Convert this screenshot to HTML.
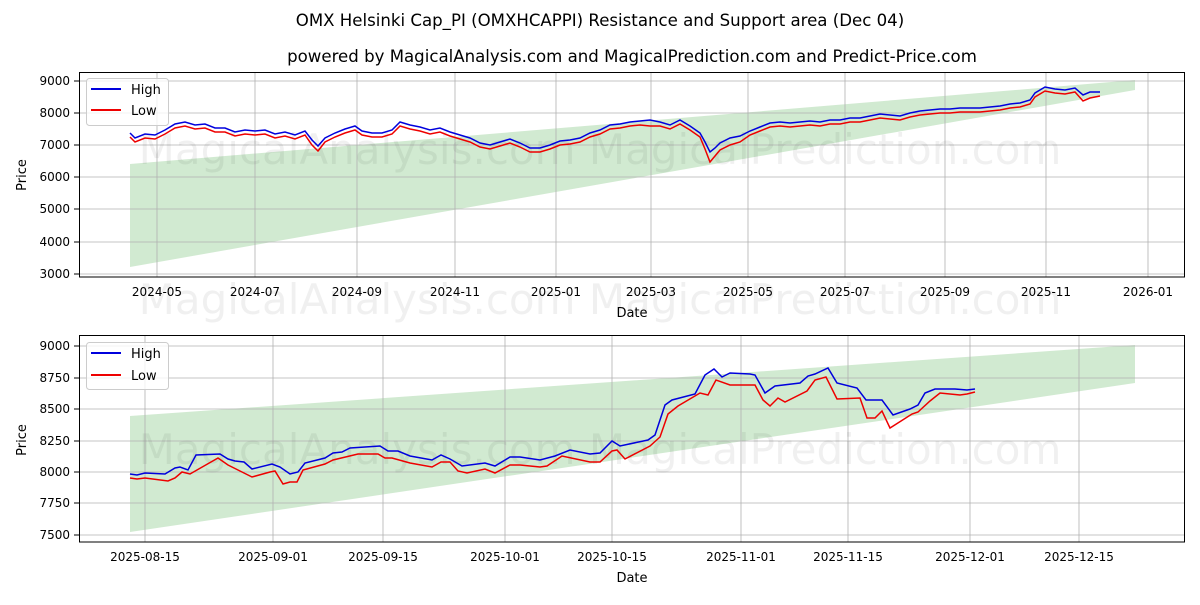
<!DOCTYPE html>
<html><head><meta charset="utf-8"><style>
body{margin:0;background:#fff;width:1200px;height:600px;overflow:hidden;font-family:"Liberation Sans","DejaVu Sans",sans-serif}
svg text{font-family:"DejaVu Sans","Liberation Sans",sans-serif;fill:#000}
</style></head><body>
<svg width="1200" height="600" xmlns="http://www.w3.org/2000/svg">
<text x="600" y="26" font-size="16.6" text-anchor="middle">OMX Helsinki Cap_PI (OMXHCAPPI) Resistance and Support area (Dec 04)</text>
<text x="632" y="62" font-size="16.6" text-anchor="middle">powered by MagicalAnalysis.com and MagicalPrediction.com and Predict-Price.com</text>

<!-- TOP CHART -->
<g>
<polygon points="130,164 1135,80 1135,90 130,267" fill="#2ca02c" fill-opacity="0.22"/>
<g stroke="#b0b0b0" stroke-width="0.8">
<line x1="157" y1="72" x2="157" y2="277"/><line x1="255" y1="72" x2="255" y2="277"/><line x1="357" y1="72" x2="357" y2="277"/><line x1="455" y1="72" x2="455" y2="277"/><line x1="556" y1="72" x2="556" y2="277"/><line x1="651" y1="72" x2="651" y2="277"/><line x1="748" y1="72" x2="748" y2="277"/><line x1="845" y1="72" x2="845" y2="277"/><line x1="945" y1="72" x2="945" y2="277"/><line x1="1046" y1="72" x2="1046" y2="277"/><line x1="1148" y1="72" x2="1148" y2="277"/>
<line x1="79" y1="81" x2="1185" y2="81"/><line x1="79" y1="113" x2="1185" y2="113"/><line x1="79" y1="145" x2="1185" y2="145"/><line x1="79" y1="177" x2="1185" y2="177"/><line x1="79" y1="209" x2="1185" y2="209"/><line x1="79" y1="242" x2="1185" y2="242"/><line x1="79" y1="274" x2="1185" y2="274"/>
</g>
<text x="600" y="164" font-size="42" text-anchor="middle" style="fill:rgba(0,0,0,0.06)">MagicalAnalysis.com    MagicalPrediction.com</text>
<text x="600" y="314" font-size="42" text-anchor="middle" style="fill:rgba(0,0,0,0.06)">MagicalAnalysis.com    MagicalPrediction.com</text>
<polyline fill="none" stroke="#ee0000" stroke-width="1.5" transform="translate(0,4)" points="130,133 135,138 145,134 155,135 165,130 175,124 185,122 195,125 205,124 215,128 225,128 235,132 245,130 255,131 265,130 275,134 285,132 295,135 305,131 312,141 318,147 325,138 335,133 345,129 355,126 362,131 372,133 382,133 392,130 400,122 410,125 420,127 430,130 440,128 450,132 460,135 470,138 480,143 490,145 500,142 510,139 520,143 530,148 540,148 550,145 560,141 570,140 580,138 590,133 600,130 610,125 620,124 630,122 640,121 650,122 660,122 670,125 680,120 690,126 700,133 705,145 710,158 715,152 720,146 730,141 740,138 750,131 760,127 770,123 780,122 790,123 800,122 810,121 820,122 830,120 840,120 850,118 860,118 870,116 880,114 890,115 900,116 910,113 920,111 930,110 940,109 950,109 960,108 970,108 980,108 990,107 1000,106 1010,104 1020,103 1030,100 1035,93 1045,87 1055,89 1065,90 1075,88 1083,97 1090,94 1100,92"/>
<polyline fill="none" stroke="#0000dd" stroke-width="1.5" points="130,133 135,138 145,134 155,135 165,130 175,124 185,122 195,125 205,124 215,128 225,128 235,132 245,130 255,131 265,130 275,134 285,132 295,135 305,131 312,140 318,146 325,138 335,133 345,129 355,126 362,131 372,133 382,133 392,130 400,122 410,125 420,127 430,130 440,128 450,132 460,135 470,138 480,143 490,145 500,142 510,139 520,143 530,148 540,148 550,145 560,141 570,140 580,138 590,133 600,130 610,125 620,124 630,122 640,121 650,120 660,122 670,125 680,120 690,126 700,133 705,142 710,152 715,148 720,143 730,138 740,136 750,131 760,127 770,123 780,122 790,123 800,122 810,121 820,122 830,120 840,120 850,118 860,118 870,116 880,114 890,115 900,116 910,113 920,111 930,110 940,109 950,109 960,108 970,108 980,108 990,107 1000,106 1010,104 1020,103 1030,100 1035,93 1045,87 1055,89 1065,90 1075,88 1083,95 1090,92 1100,92"/>
<rect x="79.5" y="72.5" width="1105" height="204.5" fill="none" stroke="#000" stroke-width="1"/>
<g font-size="12" text-anchor="end">
<text x="70" y="85">9000</text><text x="70" y="117">8000</text><text x="70" y="149">7000</text><text x="70" y="181">6000</text><text x="70" y="213">5000</text><text x="70" y="246">4000</text><text x="70" y="278">3000</text>
</g>
<g stroke="#000"><line x1="74" y1="81" x2="79" y2="81"/><line x1="74" y1="113" x2="79" y2="113"/><line x1="74" y1="145" x2="79" y2="145"/><line x1="74" y1="177" x2="79" y2="177"/><line x1="74" y1="209" x2="79" y2="209"/><line x1="74" y1="242" x2="79" y2="242"/><line x1="74" y1="274" x2="79" y2="274"/></g>
<g font-size="12" text-anchor="middle">
<text x="157" y="296">2024-05</text><text x="255" y="296">2024-07</text><text x="357" y="296">2024-09</text><text x="455" y="296">2024-11</text><text x="556" y="296">2025-01</text><text x="651" y="296">2025-03</text><text x="748" y="296">2025-05</text><text x="845" y="296">2025-07</text><text x="945" y="296">2025-09</text><text x="1046" y="296">2025-11</text><text x="1148" y="296">2026-01</text>
</g>
<text x="632" y="317" font-size="13" text-anchor="middle">Date</text>
<text x="26" y="175" font-size="13" text-anchor="middle" transform="rotate(-90 26 175)">Price</text>
<rect x="86.5" y="78.5" width="82" height="47" rx="3" fill="#fff" fill-opacity="0.8" stroke="#ccc"/>
<line x1="91" y1="89" x2="121" y2="89" stroke="#0000dd" stroke-width="2"/><text x="131" y="94" font-size="13">High</text>
<line x1="91" y1="110" x2="121" y2="110" stroke="#ee0000" stroke-width="2"/><text x="131" y="115" font-size="13">Low</text>
</g>

<!-- BOTTOM CHART -->
<g>
<polygon points="130,416 1135,345 1135,383 130,532" fill="#2ca02c" fill-opacity="0.22"/>
<g stroke="#b0b0b0" stroke-width="0.8">
<line x1="145" y1="335" x2="145" y2="542"/><line x1="273" y1="335" x2="273" y2="542"/><line x1="383" y1="335" x2="383" y2="542"/><line x1="505" y1="335" x2="505" y2="542"/><line x1="612" y1="335" x2="612" y2="542"/><line x1="741" y1="335" x2="741" y2="542"/><line x1="848" y1="335" x2="848" y2="542"/><line x1="970" y1="335" x2="970" y2="542"/><line x1="1079" y1="335" x2="1079" y2="542"/>
<line x1="79" y1="346" x2="1185" y2="346"/><line x1="79" y1="378" x2="1185" y2="378"/><line x1="79" y1="409" x2="1185" y2="409"/><line x1="79" y1="441" x2="1185" y2="441"/><line x1="79" y1="472" x2="1185" y2="472"/><line x1="79" y1="503" x2="1185" y2="503"/><line x1="79" y1="535" x2="1185" y2="535"/>
</g>
<text x="600" y="464" font-size="42" text-anchor="middle" style="fill:rgba(0,0,0,0.06)">MagicalAnalysis.com    MagicalPrediction.com</text>
<polyline fill="none" stroke="#ee0000" stroke-width="1.5" points="130,478 137,479 145,478 168,481 175,478 182,472 190,474 218,458 228,465 252,477 270,472 275,471 283,484 290,482 297,482 303,470 325,464 333,460 358,454 378,454 385,458 392,458 410,463 432,467 441,462 450,462 458,471 467,473 485,469 495,473 510,465 520,465 540,467 547,466 562,456 590,462 600,462 612,451 617,450 625,459 650,446 660,437 668,414 678,406 700,393 708,395 716,380 730,385 755,385 763,400 770,406 778,398 785,402 807,391 815,380 826,377 837,399 860,398 867,418 875,418 882,411 890,428 912,414 918,412 930,401 940,393 960,395 967,394 975,392"/>
<polyline fill="none" stroke="#0000dd" stroke-width="1.5" points="130,474 137,475 145,473 165,474 175,468 180,467 188,470 196,455 220,454 228,459 235,461 244,462 252,469 272,464 280,467 290,474 298,472 305,463 325,458 333,453 342,452 350,448 380,446 388,451 398,451 410,456 432,460 441,455 450,459 462,466 485,463 495,466 510,457 520,457 540,460 555,456 570,450 590,454 600,453 612,441 620,446 648,440 655,435 665,405 672,400 695,394 705,375 714,369 722,377 730,373 750,374 755,375 765,393 775,386 800,383 808,376 815,374 828,368 837,383 857,388 866,400 873,400 882,400 893,415 910,409 918,405 925,393 935,389 955,389 967,390 975,389"/>
<rect x="79.5" y="335.5" width="1105" height="206.5" fill="none" stroke="#000" stroke-width="1"/>
<g font-size="12" text-anchor="end">
<text x="70" y="350">9000</text><text x="70" y="382">8750</text><text x="70" y="413">8500</text><text x="70" y="445">8250</text><text x="70" y="476">8000</text><text x="70" y="507">7750</text><text x="70" y="539">7500</text>
</g>
<g stroke="#000"><line x1="74" y1="346" x2="79" y2="346"/><line x1="74" y1="378" x2="79" y2="378"/><line x1="74" y1="409" x2="79" y2="409"/><line x1="74" y1="441" x2="79" y2="441"/><line x1="74" y1="472" x2="79" y2="472"/><line x1="74" y1="503" x2="79" y2="503"/><line x1="74" y1="535" x2="79" y2="535"/></g>
<g font-size="12" text-anchor="middle">
<text x="145" y="561">2025-08-15</text><text x="273" y="561">2025-09-01</text><text x="383" y="561">2025-09-15</text><text x="505" y="561">2025-10-01</text><text x="612" y="561">2025-10-15</text><text x="741" y="561">2025-11-01</text><text x="848" y="561">2025-11-15</text><text x="970" y="561">2025-12-01</text><text x="1079" y="561">2025-12-15</text>
</g>
<text x="632" y="582" font-size="13" text-anchor="middle">Date</text>
<text x="26" y="440" font-size="13" text-anchor="middle" transform="rotate(-90 26 440)">Price</text>
<rect x="86.5" y="342.5" width="82" height="47" rx="3" fill="#fff" fill-opacity="0.8" stroke="#ccc"/>
<line x1="91" y1="353" x2="121" y2="353" stroke="#0000dd" stroke-width="2"/><text x="131" y="358" font-size="13">High</text>
<line x1="91" y1="375" x2="121" y2="375" stroke="#ee0000" stroke-width="2"/><text x="131" y="380" font-size="13">Low</text>
</g>
</svg>
</body></html>
